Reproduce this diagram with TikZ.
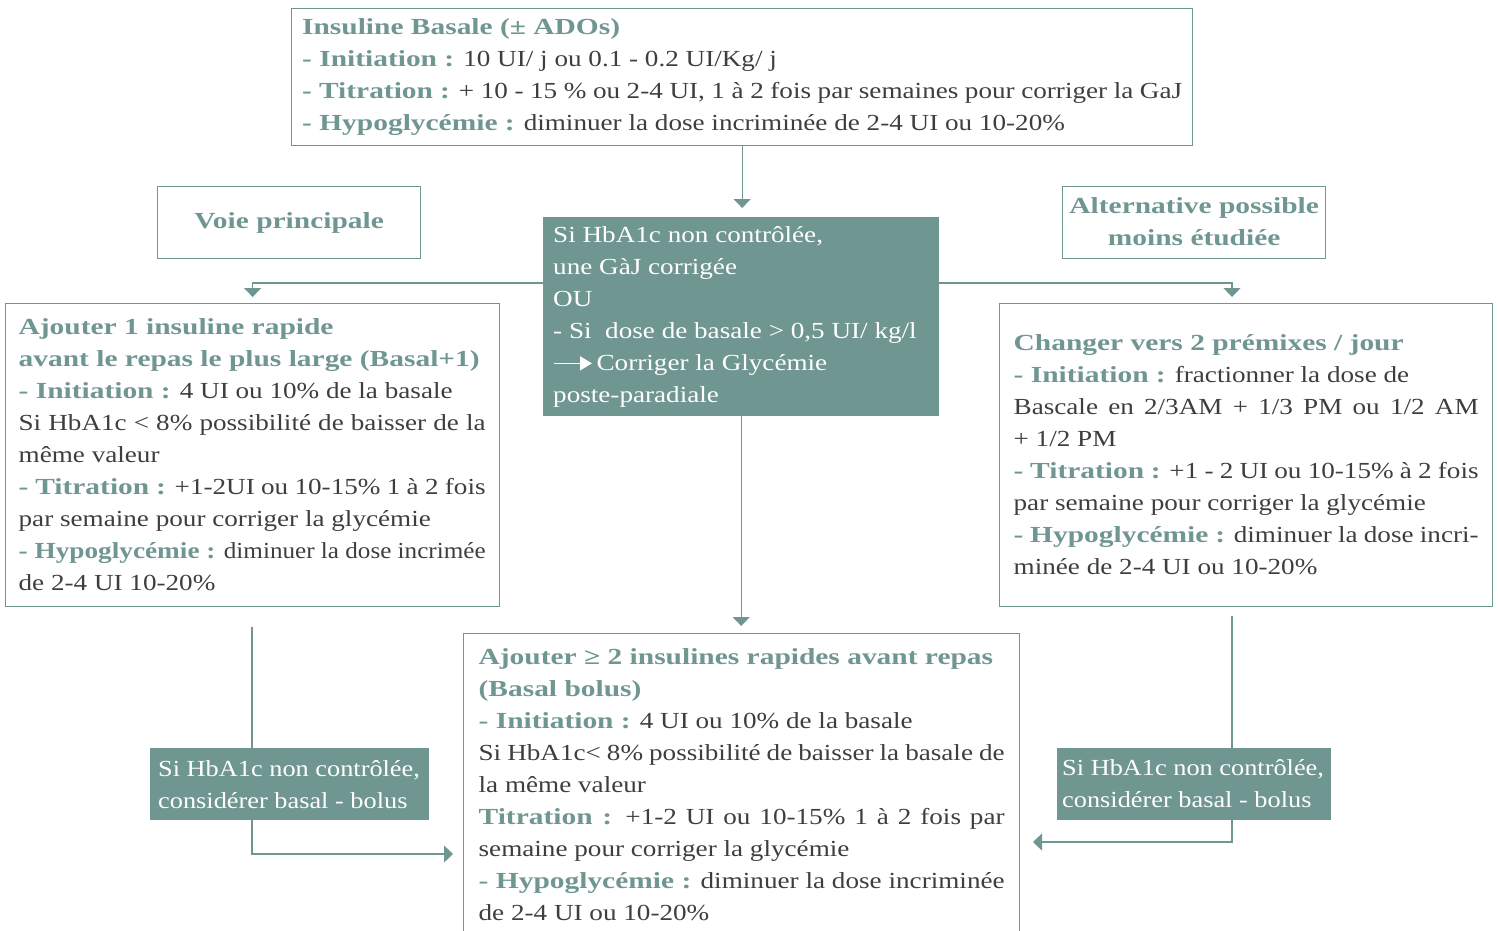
\documentclass[tikz,border=0pt]{standalone}
\usepackage{fontspec}
\usepackage{graphicx}
\setmainfont{Liberation Serif}[UprightFeatures={FakeStretch=1.18},BoldFeatures={FakeStretch=1.28}]
\usetikzlibrary{arrows.meta}
\definecolor{tealA}{RGB}{111,150,145}
\definecolor{bodytxt}{RGB}{62,62,62}
\newcommand{\bodyfont}{\fontsize{23}{32}\selectfont}
\newcommand{\natsp}{\spaceskip=0pt\xspaceskip=0pt\relax}
\newcommand{\hdr}[1]{\textbf{\textcolor{tealA}{#1}}}
\newcommand{\jline}[2]{\makebox[#1][s]{#2}}
\newcommand{\sqline}[2]{\resizebox{#1}{\height}{#2}}
\newcommand{\lbl}[1]{\scalebox{0.97}[1]{#1}}
\tikzset{
  box/.style={draw=tealA, line width=1.3pt, anchor=north west, align=left, text=bodytxt, font=\bodyfont, inner ysep=0pt},
  fillbox/.style={fill=tealA, draw=none, anchor=north west, align=left, text=white, font=\bodyfont, inner ysep=0pt},
  arr/.style={draw=tealA, line width=1.3pt, -{Triangle[length=9pt,width=17pt]}},
}
\begin{document}
\begin{tikzpicture}[x=1pt,y=-1pt]
\useasboundingbox (0,0) rectangle (1498,930);
\clip (0,0) rectangle (1498,930);

% top box
\node[box, minimum width=901pt, minimum height=137pt, text width=880pt, inner xsep=10.5pt] (top) at (291,8) {\natsp
\hdr{Insuline Basale (± ADOs)}\\
\hdr{- Initiation :} 10 UI/ j ou 0.1 - 0.2 UI/Kg/ j\\
\hdr{- Titration :} + 10 - 15 \% ou 2-4 UI, 1 à 2 fois par semaines pour corriger la GaJ\\
\hdr{- Hypoglycémie :} diminuer la dose incriminée de 2-4 UI ou 10-20\%};

% center filled box
\node[fillbox, minimum width=396pt, minimum height=199pt, text width=376pt, inner xsep=10pt] (ctr) at (543,217) {\natsp
Si HbA1c non contrôlée,\\
une GàJ corrigée\\
OU\\
- Si~ dose de basale > 0,5 UI/ kg/l\\
\tikz[baseline=-0.3em]\draw[white, line width=1.6pt, -{Triangle[length=12pt,width=14pt]}] (0pt,0pt) -- (38pt,0pt);\,Corriger la Glycémie\\
poste-paradiale};

% side titles
\node[box, minimum width=263pt, minimum height=72pt, align=center, inner xsep=4pt] (voie) at (157,186) {\natsp\raisebox{2pt}{\hdr{Voie principale}}};
\node[box, minimum width=263pt, minimum height=72pt, align=center, inner xsep=4pt] (alt) at (1062,186) {\natsp\raisebox{2pt}{\hdr{Alternative possible}}\\\raisebox{2pt}{\hdr{moins étudiée}}};

% left box
\node[box, minimum width=494pt, minimum height=303pt, text width=468pt, inner xsep=12pt] (lft) at (5,303) {\natsp
\hdr{Ajouter 1 insuline rapide}\\
\hdr{avant le repas le plus large (Basal+1)}\\
\hdr{- Initiation :} 4 UI ou 10\% de la basale\\
\jline{467pt}{Si HbA1c < 8\% possibilité de baisser de la}\\
même valeur\\
\jline{467pt}{\hdr{- Titration :} +1-2UI ou 10-15\% 1 à 2 fois}\\
par semaine pour corriger la glycémie\\
\sqline{467pt}{\hdr{- Hypoglycémie :} diminuer la dose incrimée}\\
de 2-4 UI 10-20\%};

% right box
\node[box, minimum width=493pt, minimum height=303pt, text width=465pt, inner xsep=14pt] (rgt) at (999,303) {\natsp
\hdr{Changer vers 2 prémixes / jour}\\
\hdr{- Initiation :} fractionner la dose de\\
\jline{465pt}{Bascale en 2/3AM + 1/3 PM ou 1/2 AM}\\
+ 1/2 PM\\
\jline{465pt}{\hdr{- Titration :} +1 - 2 UI ou 10-15\% à 2 fois}\\
par semaine pour corriger la glycémie\\
\jline{465pt}{\hdr{- Hypoglycémie :} diminuer la dose incri-}\\
minée de 2-4 UI ou 10-20\%};

% bottom box
\node[box, minimum width=556pt, minimum height=302pt, text width=526pt, inner xsep=15pt] (bot) at (463,633) {\natsp
\hdr{Ajouter ≥ 2 insulines rapides avant repas}\\
\hdr{(Basal bolus)}\\
\hdr{- Initiation :} 4 UI ou 10\% de la basale\\
\jline{526pt}{Si HbA1c< 8\% possibilité de baisser la basale de}\\
la même valeur\\
\jline{526pt}{\hdr{Titration :} +1-2 UI ou 10-15\% 1 à 2 fois par}\\
semaine pour corriger la glycémie\\
\jline{526pt}{\hdr{- Hypoglycémie :} diminuer la dose incriminée}\\
de 2-4 UI ou 10-20\%};

% connectors
\draw[arr, shorten >=9pt] (top.south) -- (top.south |- ctr.north);
\draw[arr, shorten >=7pt] (ctr.south) -- (ctr.south |- bot.north);
\coordinate (jL) at (543,283);
\coordinate (jR) at (939,283);
\coordinate (tR) at (1232,297);
\draw[arr, shorten >=6pt] (jL) -| (lft.north);
\draw[arr] (jR) -| (tR);

\coordinate (l1) at (252,627);
\coordinate (l2) at (453,854);
\coordinate (r1) at (1232,616);
\coordinate (r2) at (1033,842);
\draw[arr] (l1) |- (l2);
\draw[arr] (r1) |- (r2);

% labels on the loops
\node[fillbox, minimum width=279pt, minimum height=72pt, text width=263pt, inner xsep=8pt] (labL) at (150,748) {\natsp \lbl{Si HbA1c non contrôlée,}\\\lbl{considérer basal - bolus}};
\node[fillbox, minimum width=274pt, minimum height=72pt, text width=264pt, inner xsep=5pt] (labR) at (1057,748) {\natsp \raisebox{2pt}{\lbl{Si HbA1c non contrôlée,}}\\\raisebox{2pt}{\lbl{considérer basal - bolus}}};
\end{tikzpicture}
\end{document}
